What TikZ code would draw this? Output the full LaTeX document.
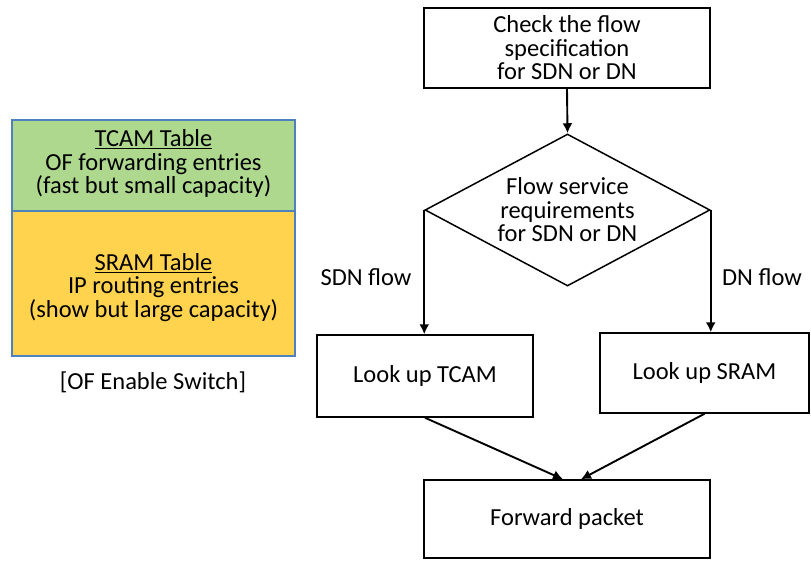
\documentclass[tikz,border=0pt]{standalone}
\usepackage{fontspec}
\setmainfont{Carlito}
\usetikzlibrary{shapes.geometric,arrows.meta}
\definecolor{tgreen}{HTML}{ADD88D}
\definecolor{tyellow}{HTML}{FFD34E}
\definecolor{tblue}{HTML}{4F81BD}
\begin{document}
\begin{tikzpicture}[x=1pt,y=-1pt,
  every node/.style={font=\fontsize{24.5}{23.5}\selectfont},
  flowbox/.style={draw=black, line width=1.5pt, inner sep=0pt, align=center},
  tabbox/.style={draw=tblue, line width=1.5pt, inner sep=0pt, align=center},
  conn/.style={line width=1.9pt, -{Latex[length=10pt,width=10pt]}},
  plain/.style={inner sep=0pt, align=center}]
\useasboundingbox (0,0) rectangle (811,560);
% left tables
\node[tabbox, fill=tgreen, minimum width=283pt, minimum height=91pt] (tcamtab) at (153.5,165.5) {};
\node[tabbox, fill=tyellow, minimum width=283pt, minimum height=145pt] (sramtab) at (153.5,283.5) {};
\node[plain] (tcamtxt) at ([yshift=2pt]tcamtab.center) {\underline{TCAM Table}\\OF forwarding entries\\(fast but small capacity)};
\node[plain] (sramtxt) at ([yshift=-4pt]sramtab.center) {\underline{SRAM Table}\\IP routing entries\\(show but large capacity)};
\node[plain] (caption) at (153,382) {[OF Enable Switch]};
% flowchart
\node[flowbox, minimum width=286pt, minimum height=80pt] (check) at (567,48) {Check the flow\\specification\\for SDN or DN};
\node[draw=black, line width=1.5pt, diamond, inner sep=0pt, minimum width=285pt, minimum height=152pt] (dia) at (567.5,210) {};
\node[plain] (diatxt) at (567.5,210) {Flow service\\requirements\\for SDN or DN};
\node[flowbox, minimum width=216pt, minimum height=82pt] (tcam) at (425,376) {Look up TCAM};
\node[flowbox, minimum width=209pt, minimum height=80pt] (sram) at (704.5,373) {Look up SRAM};
\node[flowbox, minimum width=286pt, minimum height=78pt] (fwd) at (567,519) {Forward packet};
\node[plain] (sdnlbl) at (366,277) {SDN flow};
\node[plain] (dnlbl) at (762,277) {DN flow};
\draw[conn] (check.south) -- (dia.north);
\draw[conn] (dia.west) -- (dia.west |- tcam.north);
\draw[conn] (dia.east) -- (dia.east |- sram.north);
\draw[conn] (tcam.south) -- ([xshift=-4pt]fwd.north);
\draw[conn] (sram.south) -- ([xshift=14pt]fwd.north);
\end{tikzpicture}
\end{document}
